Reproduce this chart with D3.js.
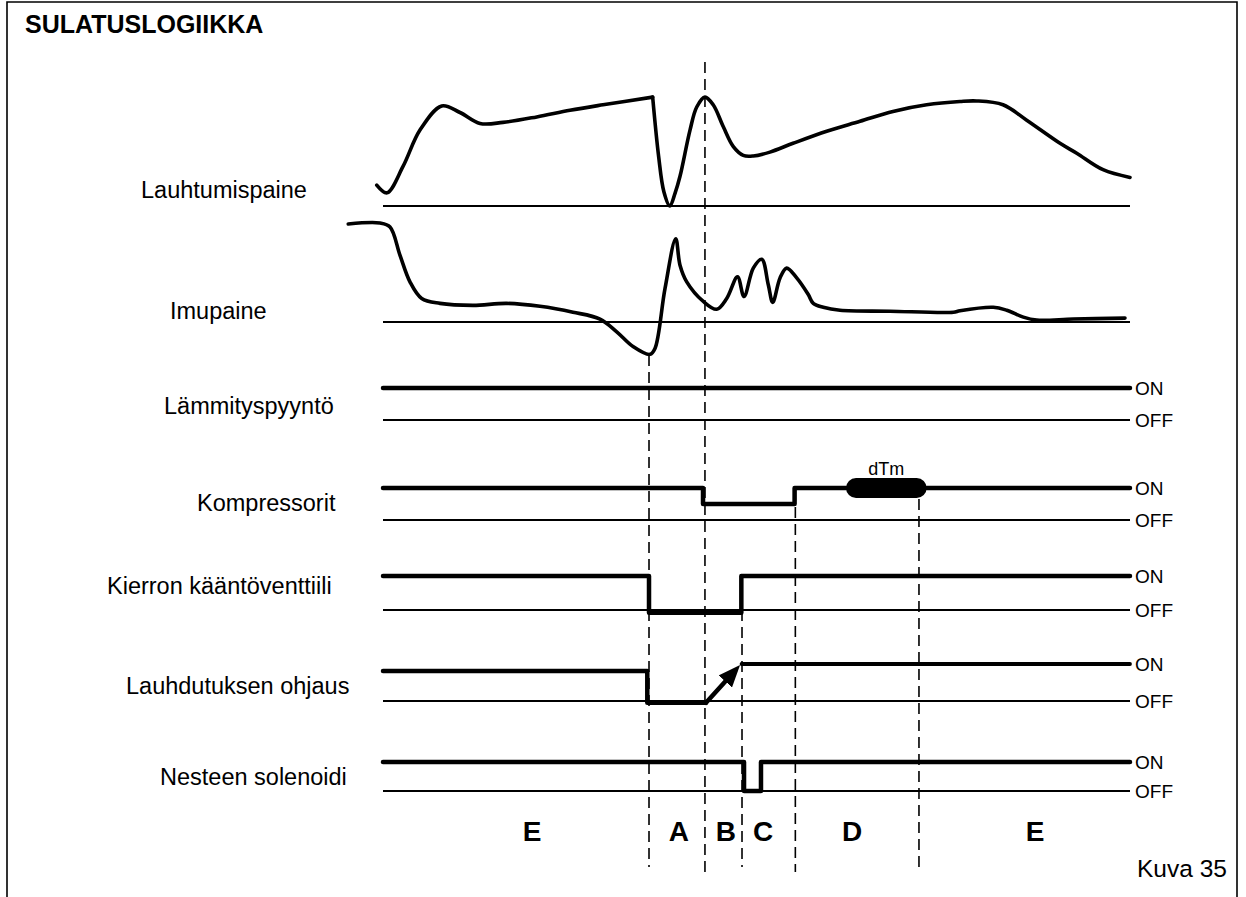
<!DOCTYPE html>
<html>
<head>
<meta charset="utf-8">
<script src="https://cdn.jsdelivr.net/npm/d3@7"></script>
<style>
  html, body { margin: 0; padding: 0; background: #fff; }
  svg { display: block; font-family: "Liberation Sans", Arial, sans-serif; }
</style>
</head>
<body>
<svg id="chart" width="1246" height="897"></svg>
<script>
// ---- Data -----------------------------------------------------------------
// Time runs 0..100 across the defrost cycle; pressures are relative (0 = reference line).
const title = "SULATUSLOGIIKKA";
const figureCaption = "Kuva 35";

const pressureNames = ["Lauhtumispaine", "Imupaine"];

// Condensing pressure, two pieces (sharp corner where the valve reverses)
const condensingPressureA = [
  [-0.84, 0.19], [0.54, 0.12], [2.68, 0.36], [4.95, 0.69], [7.86, 0.91],
  [10.31, 0.85], [12.99, 0.75], [16.06, 0.76], [20.58, 0.81], [25.03, 0.87],
  [29.45, 0.92], [36.1, 0.99]
];
const condensingPressureB = [
  [36.1, 0.99], [36.9, 0.45], [37.6, 0.13], [38.4, 0.0], [39.09, 0.115],
  [39.76, 0.27], [41.1, 0.69], [42.0, 0.90], [43.1, 0.99], [44.2, 0.92],
  [45.56, 0.72], [46.9, 0.54], [48.23, 0.46], [49.57, 0.455], [51.8, 0.49],
  [54.89, 0.57], [59.4, 0.68], [63.86, 0.77], [68.27, 0.86], [72.78, 0.92],
  [77.24, 0.95], [79.48, 0.955], [83.0, 0.92], [86.17, 0.78], [90.63, 0.57],
  [92.87, 0.48], [96.39, 0.33], [100, 0.26]
];

// Suction pressure
const suctionPressure = [
  [-4.65, 1.0], [-0.4, 1.01], [0.94, 0.97], [2.28, 0.68], [3.61, 0.41],
  [5.18, 0.24], [7.63, 0.19], [12.05, 0.17], [16.56, 0.19], [21.02, 0.16],
  [25.43, 0.10], [29.05, 0.03], [31.29, -0.10], [33.47, -0.25], [35.74, -0.33],
  [36.41, -0.27], [37.75, 0.34], [39.18, 0.85], [39.76, 0.58], [40.66, 0.41],
  [42.88, 0.21], [44.67, 0.13], [46.01, 0.24], [47.46, 0.46], [48.33, 0.26],
  [49.57, 0.55], [50.70, 0.64], [51.58, 0.38], [52.17, 0.20], [53.15, 0.45],
  [54.04, 0.55], [55.38, 0.45], [56.93, 0.28], [57.6, 0.19], [58.94, 0.15],
  [61.18, 0.12], [67.87, 0.11], [76.35, 0.10], [77.24, 0.115], [81.7, 0.15],
  [83.5, 0.12], [85.72, 0.05], [87.51, 0.02], [92.41, 0.03], [99.33, 0.04]
];

// Digital signals: [time, level] where 1 = ON, 0 = OFF (step after each point)
const signalNames = ["Lämmityspyyntö", "Kompressorit", "Kierron kääntöventtiili",
                     "Lauhdutuksen ohjaus", "Nesteen solenoidi"];
const heatRequest      = [[0, 1], [100, 1]];
const compressors      = [[0, 1], [42.84, 0.5], [55.1, 1], [100, 1]];
const reversingValve   = [[0, 1], [35.61, -0.08], [47.97, 1], [100, 1]];
const condenserControl = [[0, 0.81], [35.38, -0.05], [43.24, -0.05]];
const condenserRamp    = [[43.24, -0.05], [47.8, 0.97]];
const condenserOn      = [[48.0, 1], [100, 1]];
const liquidSolenoid   = [[0, 1], [48.33, 0], [50.6, 1], [100, 1]];

// Compressor dTm interval
const dtmInterval = [61.98, 72.78];

// Phase boundaries and phase letters
const phaseBounds = [35.61, 43.1, 48.06, 55.2, 71.75];
const phaseNames  = ["E", "A", "B", "C", "D", "E"];
const phaseCenters = [19.95, 39.6, 45.9, 50.9, 62.8, 87.3];

// ---- Layout ---------------------------------------------------------------
const svg = d3.select("#chart");
const x = d3.scaleLinear().domain([0, 100]).range([383, 1130]);

const pressureLayout = [
  { base: 206, top: 96, labelX: 141, labelY: 198 },
  { base: 322, top: 224, labelX: 170, labelY: 319 }
];
const signalLayout = [
  { on: 388, off: 420, labelX: 164, labelY: 414 },
  { on: 488, off: 520, labelX: 197, labelY: 511 },
  { on: 576, off: 610, labelX: 107, labelY: 594 },
  { on: 664, off: 701, labelX: 126, labelY: 694 },
  { on: 762, off: 791, labelX: 160, labelY: 785 }
];
// top ends of the phase boundary lines and their bottom ends
const boundTops = [355, 62, 576, 490, 499];
const boundBottoms = [867, 872, 867, 872, 872];

const THICK = 4.5, THIN = 1.8, CURVE = 3.6;
const LABEL_SIZE = 23.5;

// Frame (open at the bottom edge)
svg.append("path")
  .attr("d", "M7,897 L7,2 L1237,2 L1237,897")
  .attr("fill", "none").attr("stroke", "#000").attr("stroke-width", 1.6);

svg.append("text")
  .attr("x", 25).attr("y", 33)
  .attr("font-size", 25).attr("font-weight", "bold")
  .text(title);

// Phase boundary dashed lines
const bounds = svg.append("g");
phaseBounds.forEach((t, i) => {
  bounds.append("line")
    .attr("x1", x(t)).attr("x2", x(t))
    .attr("y1", boundTops[i]).attr("y2", boundBottoms[i])
    .attr("stroke", "#000").attr("stroke-width", 1.6)
    .attr("stroke-dasharray", "11,6");
});

// Pressure curves
const pressureSeries = [[condensingPressureA, condensingPressureB], [suctionPressure]];
pressureSeries.forEach((pieces, i) => {
  const L = pressureLayout[i];
  const y = d3.scaleLinear().domain([0, 1]).range([L.base, L.top]);
  svg.append("line")
    .attr("x1", x(0)).attr("x2", x(100))
    .attr("y1", y(0)).attr("y2", y(0))
    .attr("stroke", "#000").attr("stroke-width", THIN);
  const line = d3.line()
    .x(d => x(d[0])).y(d => y(d[1]))
    .curve(d3.curveCatmullRom.alpha(0.5));
  pieces.forEach(p => {
    svg.append("path").attr("d", line(p))
      .attr("fill", "none").attr("stroke", "#000")
      .attr("stroke-width", CURVE)
      .attr("stroke-linecap", "round").attr("stroke-linejoin", "round");
  });
  svg.append("text")
    .attr("x", L.labelX).attr("y", L.labelY)
    .attr("font-size", LABEL_SIZE)
    .text(pressureNames[i]);
});

// Digital signal rows
const signalSeries = [heatRequest, compressors, reversingValve, condenserControl, liquidSolenoid];
const yScales = signalLayout.map(L => d3.scaleLinear().domain([0, 1]).range([L.off, L.on]));

svg.append("defs").append("marker")
  .attr("id", "arrowhead")
  .attr("viewBox", "0 0 22 18")
  .attr("refX", 22).attr("refY", 9)
  .attr("markerWidth", 22).attr("markerHeight", 18)
  .attr("markerUnits", "userSpaceOnUse")
  .attr("orient", "auto")
  .append("path").attr("d", "M0,0 L22,9 L0,18 Z").attr("fill", "#000");

signalSeries.forEach((steps, i) => {
  const L = signalLayout[i];
  const y = yScales[i];
  // OFF reference line
  svg.append("line")
    .attr("x1", x(0)).attr("x2", x(100))
    .attr("y1", y(0)).attr("y2", y(0))
    .attr("stroke", "#000").attr("stroke-width", THIN);
  const line = d3.line()
    .x(d => x(d[0])).y(d => y(d[1]))
    .curve(d3.curveStepAfter);
  svg.append("path").attr("d", line(steps))
    .attr("fill", "none").attr("stroke", "#000")
    .attr("stroke-width", THICK)
    .attr("stroke-linecap", "round").attr("stroke-linejoin", "round");
  svg.append("text")
    .attr("x", L.labelX).attr("y", L.labelY)
    .attr("font-size", LABEL_SIZE)
    .text(signalNames[i]);
  svg.append("text")
    .attr("x", 1135).attr("y", y(1))
    .attr("dy", "0.36em").attr("font-size", 19).text("ON");
  svg.append("text")
    .attr("x", 1135).attr("y", y(0))
    .attr("dy", "0.36em").attr("font-size", 19).text("OFF");
});

// Condenser control: ramp arrow and ON level
{
  const y = yScales[3];
  const p0 = [x(condenserRamp[0][0]), y(condenserRamp[0][1])];
  const p1 = [x(condenserRamp[1][0]), y(condenserRamp[1][1])];
  const dx = p1[0] - p0[0], dy = p1[1] - p0[1];
  const len = Math.hypot(dx, dy);
  const ux = dx / len, uy = dy / len;
  const tipBack = 12;
  svg.append("line")
    .attr("x1", p0[0]).attr("y1", p0[1])
    .attr("x2", p1[0] - ux * tipBack).attr("y2", p1[1] - uy * tipBack)
    .attr("stroke", "#000").attr("stroke-width", THICK)
    .attr("stroke-linecap", "round");
  svg.append("path")
    .attr("d", d3.line()([[p0[0], p0[1]], [p1[0] - ux * (tipBack - 0.5), p1[1] - uy * (tipBack - 0.5)], [p1[0], p1[1]]]))
    .attr("fill", "none").attr("stroke", "none")
    .attr("marker-end", "url(#arrowhead)");
  svg.append("path")
    .attr("d", d3.line().x(d => x(d[0])).y(d => y(d[1]))(condenserOn))
    .attr("fill", "none").attr("stroke", "#000")
    .attr("stroke-width", 3.8).attr("stroke-linecap", "round");
}

// dTm capsule on the compressor ON level
{
  const y = yScales[1];
  svg.append("rect")
    .attr("x", x(dtmInterval[0])).attr("y", y(1) - 10)
    .attr("width", x(dtmInterval[1]) - x(dtmInterval[0])).attr("height", 20)
    .attr("rx", 10).attr("ry", 10).attr("fill", "#000");
  svg.append("text")
    .attr("x", (x(dtmInterval[0]) + x(dtmInterval[1])) / 2).attr("y", 475)
    .attr("text-anchor", "middle").attr("font-size", 18).text("dTm");
}

// Phase letters
svg.append("g").selectAll("text").data(phaseNames).join("text")
  .attr("x", (d, i) => x(phaseCenters[i])).attr("y", 841)
  .attr("text-anchor", "middle")
  .attr("font-size", 28).attr("font-weight", "bold")
  .text(d => d);

svg.append("text")
  .attr("x", 1137).attr("y", 877)
  .attr("font-size", 24.5)
  .text(figureCaption);
</script>
</body>
</html>
